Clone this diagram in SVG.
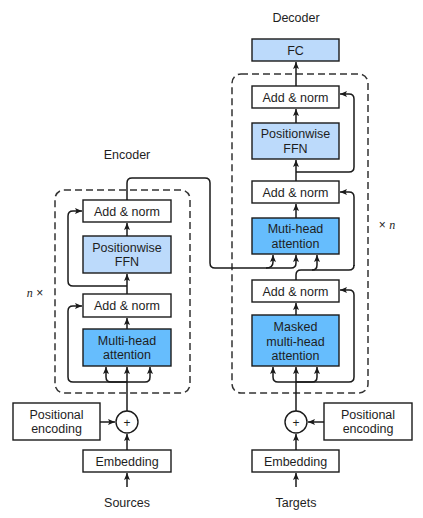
<svg xmlns="http://www.w3.org/2000/svg" width="423" height="518" viewBox="0 0 423 518">
  <defs>
    <marker id="arr" markerUnits="userSpaceOnUse" markerWidth="8" markerHeight="6" refX="7" refY="3" orient="auto">
      <path d="M0,0 L7,3 L0,6 L1.5,3 z" fill="#1a1a1a"/>
    </marker>
    <style>
      text { font-family: "Liberation Sans", Arial, sans-serif; font-size: 12.5px; fill: #1e1e1e; text-anchor: middle; }
      .box { stroke: #1a1a1a; stroke-width: 1.4; }
      .plain { fill: #ffffff; }
      .light { fill: #bcdafb; }
      .dark { fill: #66bdfd; }
      .frame { fill: none; stroke: #333; stroke-width: 1.5; stroke-dasharray: 7 4; }
      .wire { fill: none; stroke: #1a1a1a; stroke-width: 1.5; }
      .arrow { marker-end: url(#arr); }
      .rep { font-size: 12px; }
    </style>
  </defs>

  <rect width="423" height="518" fill="#ffffff"/>

  <!-- stack frames -->
  <rect class="frame" x="55" y="190" width="135" height="203" rx="9"/>
  <rect class="frame" x="232" y="74" width="136" height="319" rx="9"/>
  <text class="rep" x="35" y="297"><tspan font-style="italic" font-family="Liberation Serif, serif">n</tspan> ×</text>
  <text class="rep" x="387" y="229">× <tspan font-style="italic" font-family="Liberation Serif, serif">n</tspan></text>

  <text x="127" y="159">Encoder</text>
  <text x="296" y="22">Decoder</text>

  <!-- encoder nodes -->
  <g id="enc-addnorm2"><rect class="box plain" x="83" y="200" width="88" height="22"/><text x="127" y="215.5">Add &amp; norm</text></g>
  <g id="enc-ffn"><rect class="box light" x="83" y="236" width="88" height="37"/><text x="127" y="251.5">Positionwise</text><text x="127" y="266">FFN</text></g>
  <g id="enc-addnorm1"><rect class="box plain" x="83" y="294" width="88" height="23"/><text x="127" y="310">Add &amp; norm</text></g>
  <g id="enc-attention"><rect class="box dark" x="83" y="329" width="88" height="37"/><text x="127" y="344.5">Multi-head</text><text x="127" y="359">attention</text></g>
  <g id="enc-add"><circle class="box plain" cx="127" cy="422" r="11"/><text x="127" y="426.5" style="font-size:12px">+</text></g>
  <g id="enc-posenc"><rect class="box plain" x="13" y="403" width="87" height="37"/><text x="56.5" y="418.5">Positional</text><text x="56.5" y="433">encoding</text></g>
  <g id="enc-embedding"><rect class="box plain" x="83" y="450" width="88" height="22"/><text x="127" y="465.5">Embedding</text></g>
  <g id="sources"><text x="127" y="507">Sources</text></g>

  <!-- decoder nodes -->
  <g id="dec-fc"><rect class="box light" x="252" y="39" width="87" height="22"/><text x="295.5" y="54.5">FC</text></g>
  <g id="dec-addnorm3"><rect class="box plain" x="252" y="86" width="87" height="22"/><text x="295.5" y="101.5">Add &amp; norm</text></g>
  <g id="dec-ffn"><rect class="box light" x="252" y="123" width="87" height="36"/><text x="295.5" y="138">Positionwise</text><text x="295.5" y="152.5">FFN</text></g>
  <g id="dec-addnorm2"><rect class="box plain" x="252" y="181" width="87" height="22"/><text x="295.5" y="196.5">Add &amp; norm</text></g>
  <g id="dec-attention"><rect class="box dark" x="252" y="218" width="87" height="36"/><text x="295.5" y="233">Muti-head</text><text x="295.5" y="247.5">attention</text></g>
  <g id="dec-addnorm1"><rect class="box plain" x="252" y="280" width="87" height="22"/><text x="295.5" y="295.5">Add &amp; norm</text></g>
  <g id="dec-masked"><rect class="box dark" x="252" y="315" width="87" height="51"/><text x="295.5" y="331">Masked</text><text x="295.5" y="345.5">multi-head</text><text x="295.5" y="360">attention</text></g>
  <g id="dec-add"><circle class="box plain" cx="296" cy="422" r="11"/><text x="296" y="426.5" style="font-size:12px">+</text></g>
  <g id="dec-posenc"><rect class="box plain" x="324" y="403" width="88" height="37"/><text x="368" y="418.5">Positional</text><text x="368" y="433">encoding</text></g>
  <g id="dec-embedding"><rect class="box plain" x="252" y="450" width="87" height="22"/><text x="295.5" y="465.5">Embedding</text></g>
  <g id="targets"><text x="296" y="507">Targets</text></g>

  <!-- connectors -->
  <g id="connectors">
    <!-- encoder -->
    <path class="wire arrow" d="M127,487 V473"/>
    <path class="wire arrow" d="M127,450 V434"/>
    <path class="wire arrow" d="M100,422 H115"/>
    <path class="wire arrow" d="M127,411 V367"/>
    <path class="wire arrow" d="M127,382 H111 Q106,382 106,377 V367"/>
    <path class="wire arrow" d="M127,382 H145 Q150,382 150,377 V367"/>
    <path class="wire arrow" d="M127,382 H73 Q68,382 68,377 V311 Q68,306 73,306 H82"/>
    <path class="wire arrow" d="M127,329 V318"/>
    <path class="wire arrow" d="M127,294 V274"/>
    <path class="wire arrow" d="M127,286 H73 Q68,286 68,281 V216 Q68,211 73,211 H82"/>
    <path class="wire arrow" d="M127,236 V223"/>
    <!-- encoder output into decoder attention -->
    <path class="wire arrow" d="M127,200 V183 Q127,178 132,178 H205 Q210,178 210,183 V263 Q210,268 215,268 H291 Q296,268 296,263 V255"/>
    <path class="wire arrow" d="M266,268 Q273,268 273,262 V255"/>
    <!-- decoder -->
    <path class="wire arrow" d="M296,487 V473"/>
    <path class="wire arrow" d="M296,450 V434"/>
    <path class="wire arrow" d="M324,422 H308"/>
    <path class="wire arrow" d="M296,411 V367"/>
    <path class="wire arrow" d="M296,382 H278 Q273,382 273,377 V367"/>
    <path class="wire arrow" d="M296,382 H312 Q317,382 317,377 V367"/>
    <path class="wire arrow" d="M296,382 H349 Q354,382 354,377 V295 Q354,290 349,290 H340"/>
    <path class="wire arrow" d="M296,315 V303"/>
    <path class="wire" d="M296,280 V275 Q296,270 301,270 H349 Q354,270 354,265"/>
    <path class="wire arrow" d="M312,270 Q317,270 317,265 V255"/>
    <path class="wire arrow" d="M354,266 V197 Q354,192 349,192 H340"/>
    <path class="wire arrow" d="M296,218 V204"/>
    <path class="wire arrow" d="M296,181 V160"/>
    <path class="wire arrow" d="M296,172 H349 Q354,172 354,167 V99 Q354,94 349,94 H340"/>
    <path class="wire arrow" d="M296,123 V109"/>
    <path class="wire arrow" d="M296,86 V62"/>
  </g>
</svg>
